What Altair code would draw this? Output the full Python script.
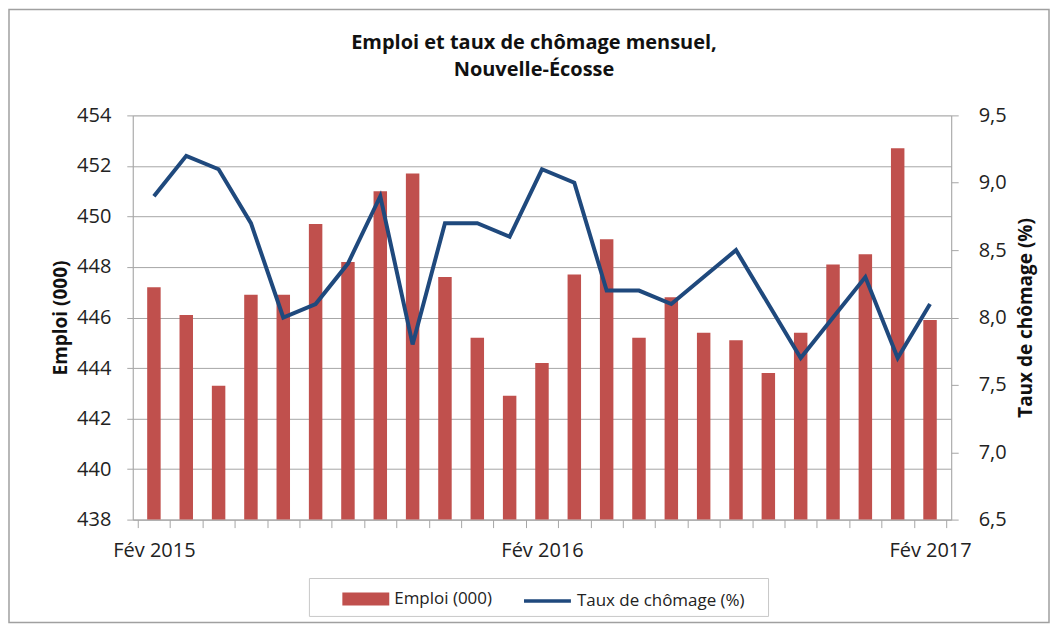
import altair as alt
import pandas as pd

# ---- data ----
month_index = list(range(25))
emploi = [447.2, 446.1, 443.3, 446.9, 446.9, 449.7, 448.2, 451.0, 451.7, 447.6,
          445.2, 442.9, 444.2, 447.7, 449.1, 445.2, 446.8, 445.4, 445.1, 443.8,
          445.4, 448.1, 448.5, 452.7, 445.9]
chomage = [8.9, 9.2, 9.1, 8.7, 8.0, 8.1, 8.4, 8.9, 7.8, 8.7,
           8.7, 8.6, 9.1, 9.0, 8.2, 8.2, 8.1, 8.3, 8.5, 8.1,
           7.7, 8.0, 8.3, 7.7, 8.1]
label_positions = [0, 12, 24]
label_texts = ["Fév 2015", "Fév 2016", "Fév 2017"]
series_names = ["Emploi (000)", "Taux de chômage (%)"]
series_colors = ["#C0504D", "#1F497D"]
left_ticks = [438, 440, 442, 444, 446, 448, 450, 452, 454]
right_ticks = [6.5, 7.0, 7.5, 8.0, 8.5, 9.0, 9.5]
title_lines = ["Emploi et taux de chômage mensuel,", "Nouvelle-Écosse"]

df = pd.DataFrame({"idx": month_index, "emploi": emploi, "chomage": chomage,
                   "s_bar": series_names[0], "s_line": series_names[1]})

FONT = "Open Sans"
GRID = "#A6A6A6"

# x axis: ticks between categories, labels at selected months
boundary_ticks = [i - 0.5 for i in range(len(month_index) + 1)]
x_values = sorted(boundary_ticks + label_positions)
label_expr = ""
for p, t in zip(label_positions, label_texts):
    label_expr += f"datum.value === {p} ? '{t}' : "
label_expr += "''"

x_enc = alt.X(
    "idx:Q",
    scale=alt.Scale(domain=[-0.5, len(month_index) - 0.5], nice=False, zero=False),
    axis=alt.Axis(
        title=None, values=x_values, labelExpr=label_expr, grid=False,
        tickOpacity={"condition": {"test": "datum.value % 1 === 0", "value": 0}, "value": 1},
        tickSize=8, tickColor=GRID, domainColor=GRID, labelFlush=False,
        labelOverlap=False, labelFontSize=20, labelFont=FONT, labelColor="#222",
        labelPadding=13,
    ),
)

bar_legend = alt.Legend(
    title=None, orient="none", direction="horizontal", legendX=210, legendY=461,
    symbolType="M-1,-0.28H1V0.28H-1Z", symbolSize=2209, symbolFillColor=series_colors[0],
    symbolStrokeWidth=0, symbolOpacity=1, labelLimit=400,
    labelFontSize=17, labelFont=FONT, labelColor="#222", labelOffset=5, padding=0,
)
line_legend = alt.Legend(
    title=None, orient="none", direction="horizontal", legendX=390, legendY=461,
    symbolType="stroke", symbolSize=2209, symbolStrokeColor=series_colors[1],
    symbolStrokeWidth=3.5, symbolOpacity=1, labelLimit=400,
    labelFontSize=17, labelFont=FONT, labelColor="#222", labelOffset=4, padding=0,
)

bars = alt.Chart(df).mark_bar(width=13.5, clip=True).encode(
    x=x_enc,
    y=alt.Y(
        "emploi:Q",
        scale=alt.Scale(domain=[438, 454], nice=False, zero=False),
        axis=alt.Axis(
            title="Emploi (000)", values=left_ticks, grid=True, gridColor=GRID,
            domainColor=GRID, tickColor=GRID, tickSize=6, labelFontSize=20,
            labelFont=FONT, labelColor="#222", labelPadding=16,
            titleFont=FONT, titleFontSize=19, titleFontWeight="bold",
            titleColor="#111", titlePadding=6,
        ),
    ),
    color=alt.Color("s_bar:N",
                    scale=alt.Scale(domain=[series_names[0]], range=[series_colors[0]]),
                    legend=bar_legend),
)

line = alt.Chart(df).mark_line(strokeWidth=4).encode(
    x=x_enc,
    y=alt.Y(
        "chomage:Q",
        scale=alt.Scale(domain=[6.5, 9.5], nice=False, zero=False),
        axis=alt.Axis(
            title="Taux de chômage (%)", orient="right", values=right_ticks,
            grid=False, format=".1f", labelExpr="replace(datum.label, '.', ',')",
            domainColor=GRID, tickColor=GRID, tickSize=7, labelFontSize=20,
            labelFont=FONT, labelColor="#222", labelPadding=20,
            titleFont=FONT, titleFontSize=19, titleFontWeight="bold",
            titleColor="#111", titlePadding=29, titleAngle=270,
        ),
    ),
    stroke=alt.Stroke("s_line:N",
                      scale=alt.Scale(domain=[series_names[1]], range=[series_colors[1]]),
                      legend=line_legend),
)

# chart title as a text layer (kept as real text)
title_df = pd.DataFrame({"t": ["\n".join(title_lines)]})
title = alt.Chart(title_df).mark_text(
    font=FONT, fontSize=20, fontWeight="bold", color="#111", align="center",
    baseline="middle", lineBreak="\n", lineHeight=28,
).encode(text="t:N", x=alt.value(402), y=alt.value(-73))

# decorative frames (outer chart border and legend box)
frame_df = pd.DataFrame({"k": [0]})
outer = alt.Chart(frame_df).mark_rect(fill="transparent", stroke="#A0A0A0", strokeWidth=1.5).encode(
    x=alt.value(-124), x2=alt.value(918), y=alt.value(-106), y2=alt.value(508)
)
legend_box = alt.Chart(frame_df).mark_rect(fill="transparent", stroke="#C8C8C8", strokeWidth=1).encode(
    x=alt.value(177), x2=alt.value(637), y=alt.value(464), y2=alt.value(502)
)

chart = alt.layer(bars, line, outer, legend_box, title).resolve_scale(y="independent").properties(
    width=820, height=405,
    autosize=alt.AutoSizeParams(type="none"),
    padding={"left": 125, "top": 107, "right": 99, "bottom": 104},
).configure_view(strokeWidth=0).configure(background="white")

chart.save("out.html", embed_options={"renderer": "svg", "actions": False})
